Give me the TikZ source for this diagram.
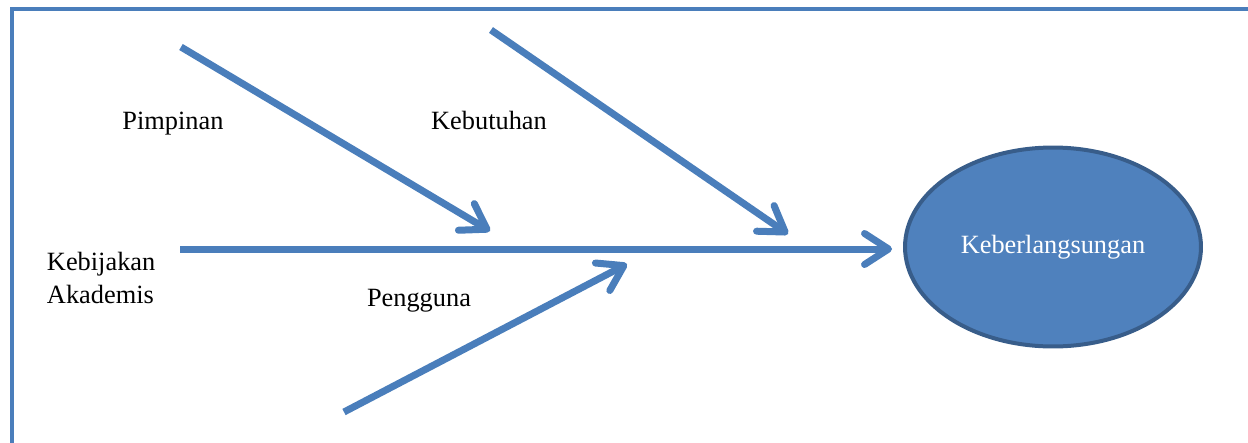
\documentclass[tikz,border=0pt]{standalone}
\usepackage{fontspec}
\setmainfont{Liberation Serif}
\usetikzlibrary{shapes.geometric,arrows.meta}
\usetikzlibrary{positioning}

\begin{document}
\begin{tikzpicture}[x=0.02cm,y=-0.02cm]

	\definecolor{bonecolor}{HTML}{4A7EBB}
	\definecolor{headfill}{HTML}{4F81BD}
	\definecolor{headline}{HTML}{385D8A}
	\tikzset{lbl/.style={line width = 0pt,inner sep=0pt,align=left,font=\fontsize{15}{18.8}\selectfont},
		bone/.style={-{Straight Barb[length=0.48cm,width=0.62cm,round]},line width=0.14cm,bonecolor}}

	\useasboundingbox (0,0) rectangle (1248,443);
	\draw[line width=0.08cm,bonecolor] (1260,9) -- (12,9) -- (12,460);

	\node(kb)[ellipse,minimum width=5.92cm,minimum height=3.98cm,inner sep=0pt,fill=headfill,draw=headline,line width=0.08cm,font=\fontsize{15}{18.8}\selectfont,text=white] at (1053,247){Keberlangsungan};

	\node(pim)[lbl,anchor=base] at (173,129){Pimpinan};
	\node(keb)[lbl,anchor=base] at (489,129){Kebutuhan};
	\node(peng)[lbl,anchor=base] at (419,306){Pengguna};
	\node(kbj)[lbl,anchor=west] at (47,278){Kebijakan\\Akademis};

	\coordinate (spine) at (180,249);
	\coordinate (head) at ([xshift=-0.22cm] kb.west |- spine);
	\coordinate (pimA) at (181,47);
	\coordinate (pimB) at (490,231);
	\coordinate (kebA) at (491,30);
	\coordinate (kebB) at (788,234);
	\coordinate (pengA) at (344,412);
	\coordinate (pengB) at (627,264);

	\draw[bone] (spine) -- (head);
	\draw[bone] (pimA) -- (pimB);
	\draw[bone] (kebA) -- (kebB);
	\draw[bone] (pengA) -- (pengB);

\end{tikzpicture}
\end{document}
